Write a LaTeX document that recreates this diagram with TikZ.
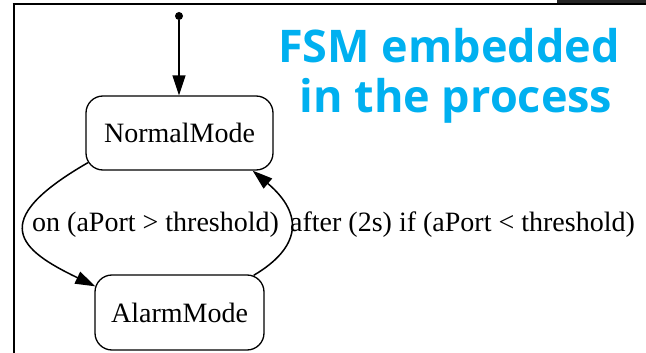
\documentclass[tikz,border=0pt]{standalone}
\usepackage{fontspec}
\setmainfont{Liberation Serif}
\newfontfamily\titlefont{Open Sans}
\usetikzlibrary{arrows.meta,calc}
\definecolor{titleblue}{HTML}{00B0F0}
\definecolor{framegray}{HTML}{262626}
\begin{document}
\begin{tikzpicture}[x=1pt,y=-1pt,
  state/.style={draw, line width=1.3pt, rounded corners=17pt, inner sep=0pt,
    font=\fontsize{28}{30}\selectfont},
  edge/.style={line width=1.5pt, -{Triangle[length=20pt,width=13pt]}},
  lab/.style={font=\fontsize{28}{30}\selectfont, inner sep=0pt, anchor=base west},
  titletext/.style={anchor=base, inner sep=0pt, text=titleblue,
    font=\titlefont\bfseries\fontsize{45}{45}\selectfont}]
\useasboundingbox (0,0) rectangle (646,353);
\fill[white] (0,0) rectangle (646,353);

% window frame
\fill[framegray] (557,0) rectangle (646,3.5);
\draw[line width=2pt] (12.6,4.3) -- (646,4.3);
\draw[line width=2.2pt] (13.7,3.3) -- (13.7,353);

% states
\node[state, minimum width=187pt, minimum height=74pt] (normal) at (179.5,133) {NormalMode};
\node[state, minimum width=169pt, minimum height=75pt] (alarm) at (179.5,312.5) {AlarmMode};
\node[circle, fill, inner sep=0pt, minimum size=8pt] (init) at (179,16) {};

% transitions
\draw[edge] (init) -- (init |- normal.north);
\draw[edge] ($(normal.south west)+(2.6,-8)$) .. controls (-15,222) and (20,250) .. ($(alarm.north west)+(1,12)$);
\draw[edge] ($(alarm.north east)+(-11,1)$) .. controls (300,248) and (305,215) .. ($(normal.south east)+(-21,0)$);

% transition labels
\node[lab] (onlab) at (32,231) {on (aPort > threshold)};
\node[lab] (afterlab) at (290,231) {after (2s) if (aPort < threshold)};

% title
\node[titletext] (title1) at (449,63) {FSM embedded};
\node[titletext] (title2) at (456,113) {in the process};
\end{tikzpicture}
\end{document}
